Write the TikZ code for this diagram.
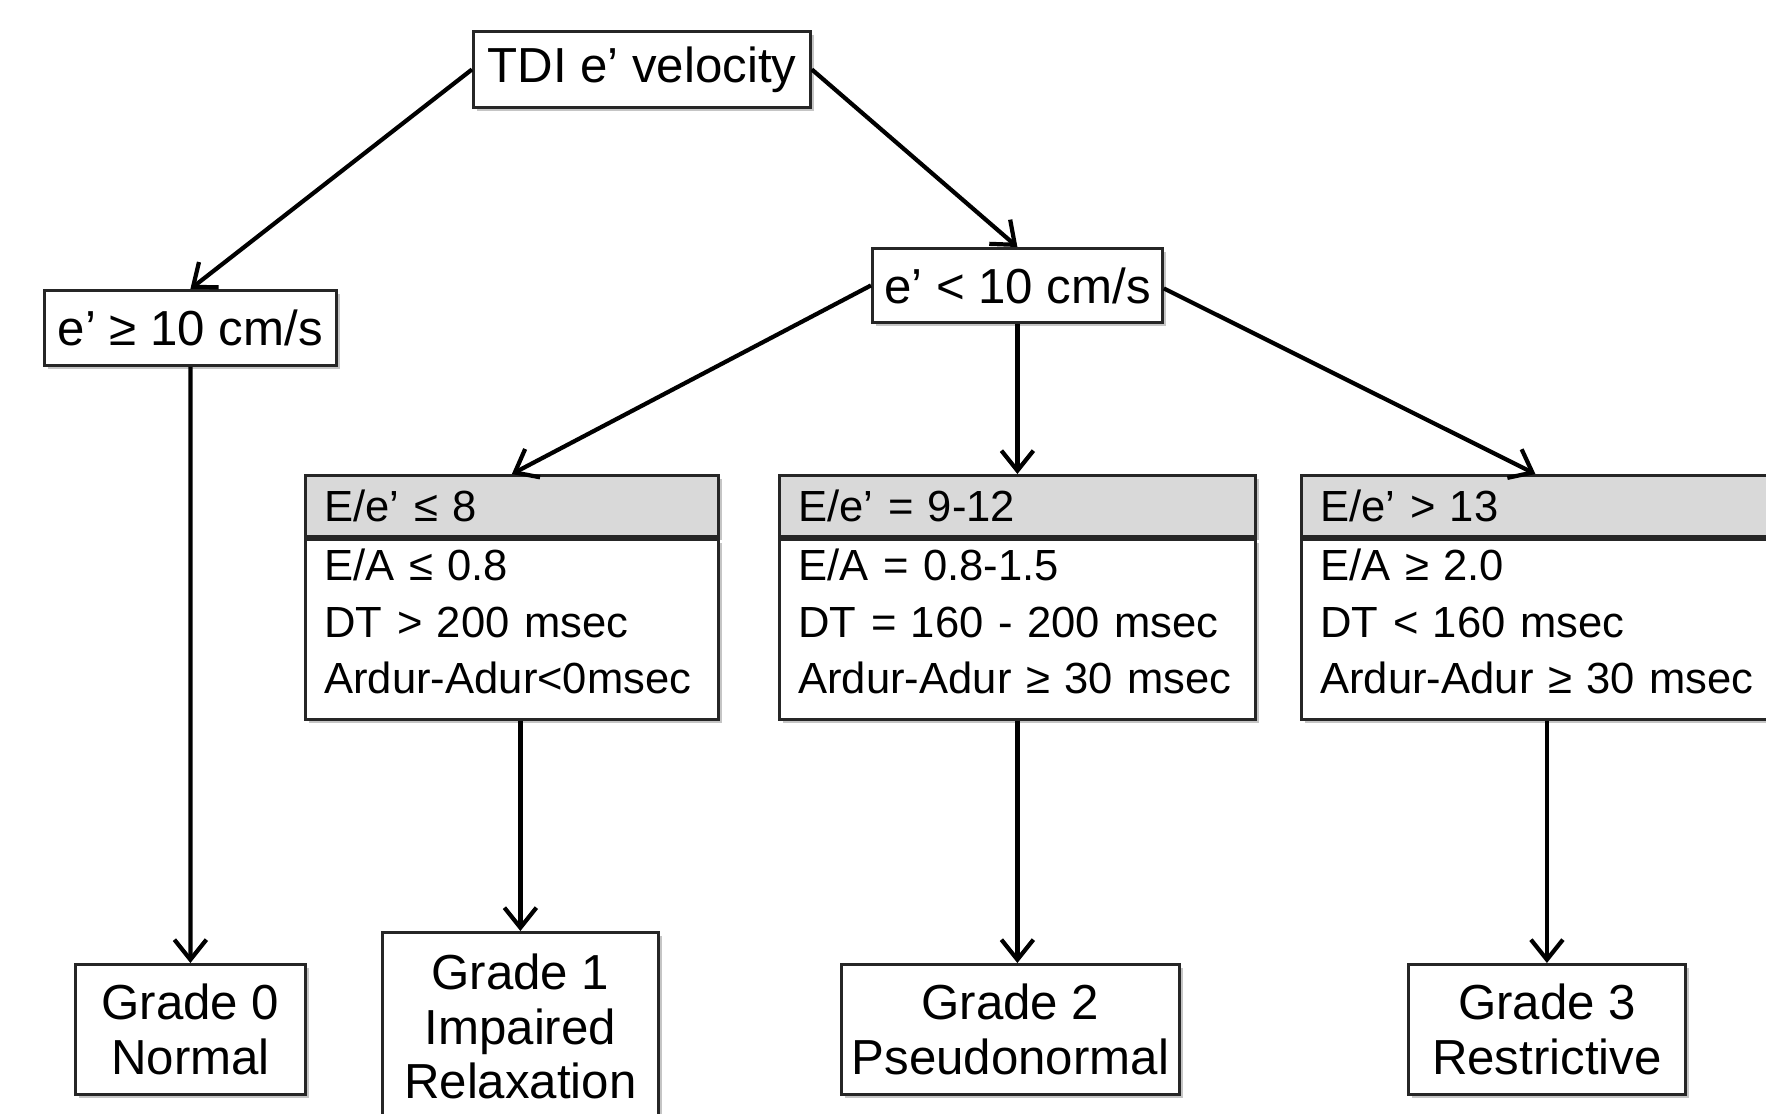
\documentclass[tikz,border=0pt]{standalone}
\usepackage{fontspec}
\setmainfont{Liberation Sans}
\usepackage{tikz}
\usetikzlibrary {arrows.meta,
                 positioning,
                 shadows}
\tikzset{
         box/.style={draw=black!85, line width=0.8pt, fill=white, inner sep=0pt,
                     align=center, font=\fontsize{14}{15.6}\selectfont,
                     drop shadow={shadow xshift=0.04cm, shadow yshift=-0.04cm, fill=black!45, opacity=0.5}},
         headbox/.style={box, fill=black!15, align=left, inner xsep=0.19cm,
                         minimum height=0.61cm, font=\fontsize{12.4}{16.2}\selectfont},
         bodybox/.style={box, align=left, inner xsep=0.19cm,
                         minimum height=1.80cm, font=\fontsize{12.4}{16.2}\selectfont,
                         execute at end node={\rule[-0.16cm]{0pt}{0pt}}},
         myarrow/.style={-{Straight Barb[length=2mm, width=3.2mm]}, line width=1.2pt},
}

\begin{document}
\begin{tikzpicture}
    \useasboundingbox (0,0) rectangle (17.66,-11.13);

    % Obere Ebene
    \node[box, anchor=north west, minimum width=3.37cm, minimum height=0.76cm] (tdi) at (4.72,-0.30) {TDI e’ velocity};
    \node[box, anchor=north west, minimum width=2.92cm, minimum height=0.75cm] (ge10) at (0.43,-2.89) {e’ ≥ 10 cm/s};
    \node[box, anchor=north west, minimum width=2.90cm, minimum height=0.74cm] (lt10) at (8.71,-2.47) {e’ < 10 cm/s};

    % Kriterien
    \node[headbox, anchor=north west, text width=3.75cm] (h1) at (3.04,-4.74) {E/e’ ≤ 8};
    \node[bodybox, below=0cm of h1, text width=3.75cm] (b1) {E/A ≤ 0.8\\DT > 200 msec\\Ardur-Adur<0msec};
    \node[headbox, anchor=north west, text width=4.38cm] (h2) at (7.78,-4.74) {E/e’ = 9-12};
    \node[bodybox, below=0cm of h2, text width=4.38cm] (b2) {E/A = 0.8-1.5\\DT = 160 - 200 msec\\Ardur-Adur ≥ 30 msec};
    \node[headbox, anchor=north west, text width=4.60cm] (h3) at (13.00,-4.74) {E/e’ > 13};
    \node[bodybox, below=0cm of h3, text width=4.60cm] (b3) {E/A ≥ 2.0\\DT < 160 msec\\Ardur-Adur ≥ 30 msec};

    % Grade
    \node[box, anchor=north west, minimum width=2.30cm, minimum height=1.30cm] (g0) at (0.74,-9.63) {Grade 0\\Normal};
    \node[box, anchor=north west, minimum width=2.76cm, minimum height=1.88cm] (g1) at (3.81,-9.31) {Grade 1\\Impaired\\Relaxation};
    \node[box, anchor=north west, minimum width=3.38cm, minimum height=1.30cm] (g2) at (8.40,-9.63) {Grade 2\\Pseudonormal};
    \node[box, anchor=north west, minimum width=2.77cm, minimum height=1.30cm] (g3) at (14.07,-9.63) {Grade 3\\Restrictive};

    % Pfeile
    \draw[myarrow] (tdi.west) -- (ge10.north);
    \draw[myarrow] (tdi.east) -- (lt10.north);
    \draw[myarrow] (lt10.west) -- (h1.north);
    \draw[myarrow] (lt10.south) -- (h2.north);
    \draw[myarrow] ([yshift=-0.03cm]lt10.east) -- ([xshift=-0.15cm]h3.north);
    \draw[myarrow] (ge10.south) -- (g0.north);
    \draw[myarrow] (g1.north |- b1.south) -- (g1.north);
    \draw[myarrow] (b2.south) -- (b2.south |- g2.north);
    \draw[myarrow] (g3.north |- b3.south) -- (g3.north);
\end{tikzpicture}
\end{document}
